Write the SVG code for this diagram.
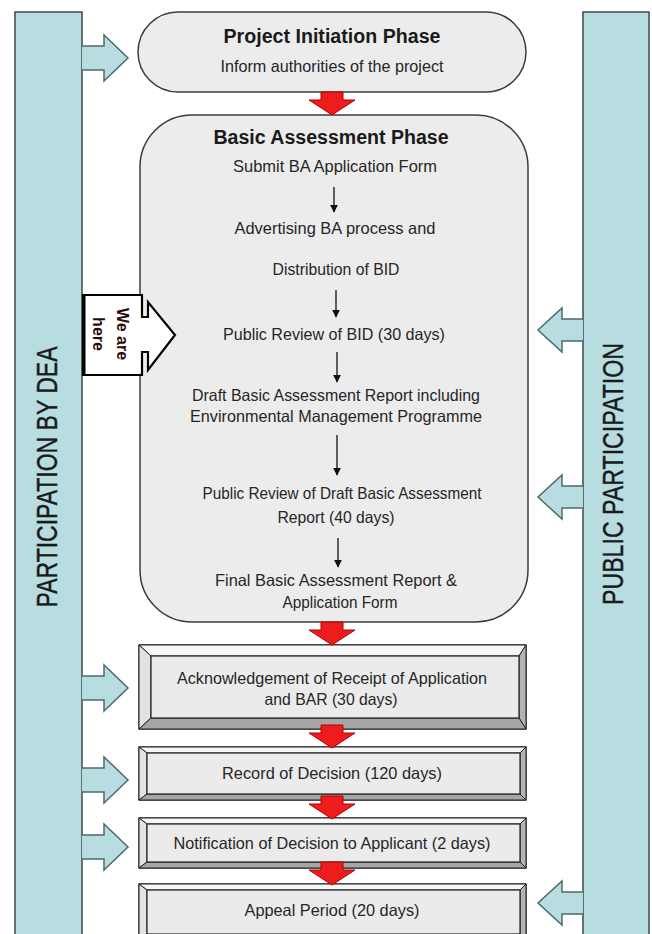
<svg xmlns="http://www.w3.org/2000/svg" xmlns:xlink="http://www.w3.org/1999/xlink" width="652" height="934" viewBox="0 0 652 934">
<defs>
<style>
.bar{fill:#b8dde1;stroke:#3a4a4c;stroke-width:1.5}
.side{fill:#b8dde1;stroke:#4b6a6d;stroke-width:1.5;stroke-linejoin:miter}
.phase{fill:#ececec;stroke:#3c3c3c;stroke-width:1.5}
.t{font-family:"Liberation Sans",Arial,sans-serif;font-size:16.5px;fill:#262626;text-anchor:middle}
.h{font-family:"Liberation Sans",Arial,sans-serif;font-size:19.5px;font-weight:bold;fill:#1a1a1a;text-anchor:middle}
.v{font-family:"Liberation Sans",Arial,sans-serif;font-size:29px;fill:#1a1a1a;stroke:#1a1a1a;stroke-width:0.4;text-anchor:middle}
.we{font-family:"Liberation Sans",Arial,sans-serif;font-size:16px;font-weight:bold;fill:#2a0a0a;text-anchor:middle}
.red{fill:#ee1c1c;stroke:#b00000;stroke-width:1}
.flow{stroke:#111;stroke-width:1.3;fill:none;marker-end:url(#ah)}
.bo{fill:#ebebeb;stroke:#222;stroke-width:1.3}
.bt{fill:#f7f7f7;stroke:#222;stroke-width:1}
.bl{fill:#e2e2e2;stroke:#222;stroke-width:1}
.br{fill:#b4b4b4;stroke:#222;stroke-width:1}
.bb{fill:#a6a6a6;stroke:#222;stroke-width:1}
.bi{fill:#ebebeb;stroke:#222;stroke-width:1.2}
</style>
<marker id="ah" viewBox="0 0 10 10" refX="9" refY="5" markerWidth="8" markerHeight="9" markerUnits="userSpaceOnUse" orient="auto">
<path d="M0,0 L10,5 L0,10 Z" fill="#111"/>
</marker>
<path id="redArrow" class="red" d="M-11,0 H11 V8 H23 L0,23 L-23,8 H-11 Z"/>
</defs>

<!-- side bars -->
<g id="dea-bar">
<rect class="bar" x="15" y="12" width="67" height="930"/>
<text class="v" transform="translate(57,477) rotate(-90)" textLength="261" lengthAdjust="spacingAndGlyphs">PARTICIPATION BY DEA</text>
</g>
<g id="public-bar">
<rect class="bar" x="583" y="12" width="66" height="930"/>
<text class="v" transform="translate(623,474) rotate(-90)" textLength="262" lengthAdjust="spacingAndGlyphs">PUBLIC PARTICIPATION</text>
</g>

<!-- phase boxes -->
<g id="project-initiation">
<rect class="phase" x="138" y="12" width="388" height="80" rx="40" ry="40"/>
<text class="h" x="332" y="43" textLength="217" lengthAdjust="spacingAndGlyphs">Project Initiation Phase</text>
<text class="t" x="332" y="72" textLength="223" lengthAdjust="spacingAndGlyphs">Inform authorities of the project</text>
</g>

<g id="basic-assessment">
<rect class="phase" x="140" y="115" width="388" height="507" rx="52" ry="52"/>
<text class="h" x="331" y="144" textLength="235" lengthAdjust="spacingAndGlyphs">Basic Assessment Phase</text>
<text class="t" x="335" y="172" textLength="204" lengthAdjust="spacingAndGlyphs">Submit BA Application Form</text>
<text class="t" x="335" y="234" textLength="201" lengthAdjust="spacingAndGlyphs">Advertising BA process and</text>
<text class="t" x="336" y="275" textLength="127" lengthAdjust="spacingAndGlyphs">Distribution of BID</text>
<text class="t" x="334" y="340" textLength="222" lengthAdjust="spacingAndGlyphs">Public Review of BID (30 days)</text>
<text class="t" x="336" y="401" textLength="288" lengthAdjust="spacingAndGlyphs">Draft Basic Assessment Report including</text>
<text class="t" x="336" y="422" textLength="292" lengthAdjust="spacingAndGlyphs">Environmental Management Programme</text>
<text class="t" x="342" y="499" textLength="279" lengthAdjust="spacingAndGlyphs">Public Review of Draft Basic Assessment</text>
<text class="t" x="336" y="523" textLength="117" lengthAdjust="spacingAndGlyphs">Report (40 days)</text>
<text class="t" x="336" y="586" textLength="242" lengthAdjust="spacingAndGlyphs">Final Basic Assessment Report &amp;</text>
<text class="t" x="340" y="608" textLength="115" lengthAdjust="spacingAndGlyphs">Application Form</text>
</g>

<!-- bevel boxes -->
<g id="acknowledgement">
<rect class="bo" x="139" y="645" width="387" height="84"/>
<polygon class="bt" points="139,645 526,645 519,656 151,656"/>
<polygon class="bl" points="139,645 151,656 151,718 139,729"/>
<polygon class="br" points="526,645 526,729 519,718 519,656"/>
<polygon class="bb" points="139,729 151,718 519,718 526,729"/>
<rect class="bi" x="151" y="656" width="368" height="62"/>
<text class="t" x="332" y="684" textLength="310" lengthAdjust="spacingAndGlyphs">Acknowledgement of Receipt of Application</text>
<text class="t" x="331" y="705" textLength="133" lengthAdjust="spacingAndGlyphs">and BAR (30 days)</text>
</g>

<g id="record-of-decision">
<rect class="bo" x="139" y="747" width="387" height="53"/>
<polygon class="bt" points="139,747 526,747 520,753 147,753"/>
<polygon class="bl" points="139,747 147,753 147,794 139,800"/>
<polygon class="br" points="526,747 526,800 520,794 520,753"/>
<polygon class="bb" points="139,800 147,794 520,794 526,800"/>
<rect class="bi" x="147" y="753" width="373" height="41"/>
<text class="t" x="332" y="779" textLength="220" lengthAdjust="spacingAndGlyphs">Record of Decision (120 days)</text>
</g>

<g id="notification">
<rect class="bo" x="139" y="818" width="387" height="50"/>
<polygon class="bt" points="139,818 526,818 520,824 147,824"/>
<polygon class="bl" points="139,818 147,824 147,862 139,868"/>
<polygon class="br" points="526,818 526,868 520,862 520,824"/>
<polygon class="bb" points="139,868 147,862 520,862 526,868"/>
<rect class="bi" x="147" y="824" width="373" height="38"/>
<text class="t" x="332" y="849" textLength="317" lengthAdjust="spacingAndGlyphs">Notification of Decision to Applicant (2 days)</text>
</g>

<g id="appeal-period">
<rect class="bo" x="139" y="884" width="387" height="56"/>
<polygon class="bt" points="139,884 526,884 520,890 147,890"/>
<polygon class="bl" points="139,884 147,890 147,934 139,940"/>
<polygon class="br" points="526,884 526,940 520,934 520,890"/>
<rect class="bi" x="147" y="890" width="373" height="44"/>
<text class="t" x="332" y="916" textLength="175" lengthAdjust="spacingAndGlyphs">Appeal Period (20 days)</text>
</g>

<!-- We are here pointer -->
<g id="we-are-here">
<path d="M83,295 H142 V317 H148 V302 L175,335 L148,370 V352 H142 V375 H83 Z" fill="#ffffff" stroke="#000" stroke-width="2.2" stroke-linejoin="miter"/>
<line x1="84" y1="295" x2="84" y2="375" stroke="#000" stroke-width="3"/>
<text class="we" transform="translate(117,334) rotate(90)">We are</text>
<text class="we" transform="translate(93,334) rotate(90)">here</text>
</g>

<!-- connectors -->
<g id="connectors">
<line class="flow" x1="334" y1="187" x2="334" y2="212"/>
<line class="flow" x1="336" y1="290" x2="336" y2="317"/>
<line class="flow" x1="337" y1="352" x2="337" y2="382"/>
<line class="flow" x1="337" y1="435" x2="337" y2="475"/>
<line class="flow" x1="338" y1="538" x2="338" y2="567"/>

<use xlink:href="#redArrow" href="#redArrow" x="332" y="92"/>
<use xlink:href="#redArrow" href="#redArrow" x="332" y="622"/>
<use xlink:href="#redArrow" href="#redArrow" x="332" y="725"/>
<use xlink:href="#redArrow" href="#redArrow" x="332" y="796"/>
<use xlink:href="#redArrow" href="#redArrow" x="332" y="862"/>

<path class="side" d="M82,46 H104 V35 L128,58 L104,81 V70 H82"/>
<path class="side" d="M82,676 H104 V665 L128,688 L104,711 V700 H82"/>
<path class="side" d="M82,768 H104 V757 L128,780 L104,803 V792 H82"/>
<path class="side" d="M82,835 H104 V824 L128,847 L104,870 V859 H82"/>

<path class="side" d="M583,319 H562 V308 L538,330 L562,352 V341 H583"/>
<path class="side" d="M583,486 H562 V475 L538,497 L562,519 V508 H583"/>
<path class="side" d="M583,892 H562 V881 L538,903 L562,925 V914 H583"/>
</g>
</svg>
